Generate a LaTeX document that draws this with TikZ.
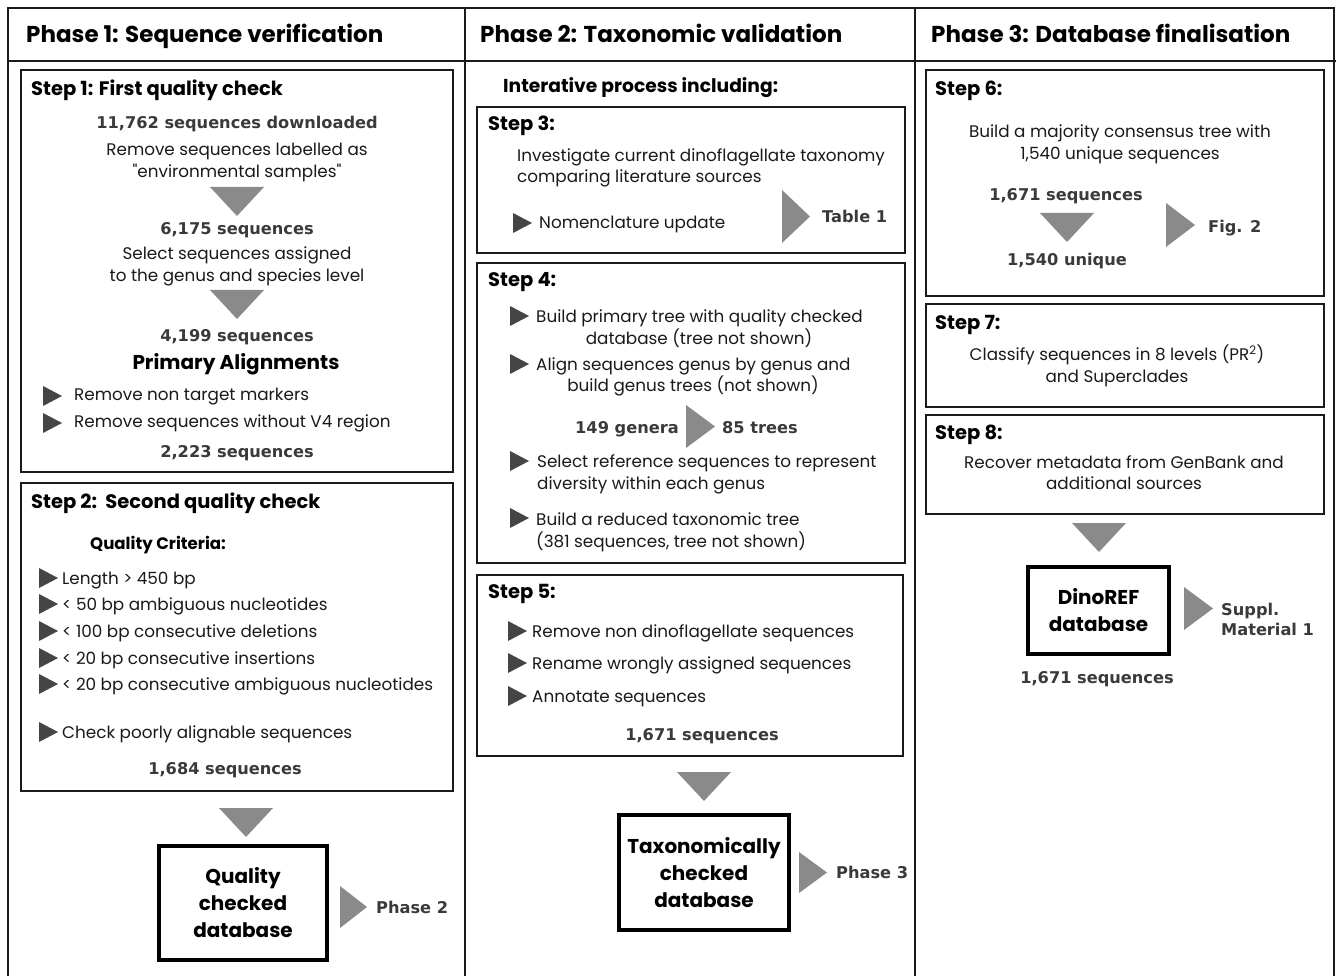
\documentclass[tikz,border=0pt]{standalone}
\usepackage{fontspec}
\setmainfont{Poppins}
\newfontfamily\popq{Poppins}
\newfontfamily\dvs{DejaVu Sans}
\definecolor{trigrey}{HTML}{8A8A8A}
\definecolor{bulgrey}{HTML}{454545}
\definecolor{numc}{HTML}{3A3A3A}
\definecolor{ink}{HTML}{1A1A1A}
\newcommand\dtri[2]{\fill[bigtri] (#1-27,#2) -- (#1+27,#2) -- (#1,#2+29) -- cycle;}
\newcommand\rtri[4]{\fill[bigtri] (#1,#2) -- (#1+#3,#2+#4/2) -- (#1,#2+#4) -- cycle;}
\newcommand\bulx[2]{\fill[bullet] (#1,#2-10) -- (#1+19,#2) -- (#1,#2+10) -- cycle;}
\newcommand\sq{{\popq\symbol{"22}}}
\begin{document}
\begin{tikzpicture}[x=1pt,y=-1pt,
  frame/.style={draw=ink, line width=2pt},
  stepbox/.style={draw=ink, line width=2pt},
  dbbox/.style={draw=black, line width=3.6pt, inner sep=0pt, align=center,
     font=\fontsize{20}{27}\selectfont\bfseries},
  txt/.style={inner sep=0pt, yshift=-4pt},
  hdr/.style={txt, font=\fontsize{23}{27}\selectfont\bfseries, anchor=mid west, text=black, yshift=-1pt},
  steptitle/.style={txt, font=\fontsize{19.5}{23}\selectfont\bfseries, anchor=mid west, text=black},
  body/.style={txt, font=\fontsize{16.8}{20}\selectfont, anchor=mid, text=ink},
  bodyl/.style={body, anchor=mid west},
  num/.style={txt, font=\dvs\bfseries\fontsize{16.2}{19}\selectfont, text=numc, anchor=mid},
  numl/.style={num, anchor=mid west},
  bigtri/.style={fill=trigrey},
  bullet/.style={fill=bulgrey}
]
\useasboundingbox (0,0) rectangle (1336,976);
\clip (0,0) rectangle (1336,976);
\fill[white] (0,0) rectangle (1336,976);

% frame
\draw[frame] (8,990) -- (8,8) -- (1334,8) -- (1334,990);
\draw[frame] (8,61) -- (1336,61);
\draw[frame] (465,8) -- (465,990);
\draw[frame] (915,8) -- (915,990);

\node[hdr] (h1) at (26,35) {Phase 1: Sequence verification};
\node[hdr] (h2) at (480,35) {Phase 2: Taxonomic validation};
\node[hdr] (h3) at (931,35) {Phase 3: Database finalisation};

% ---------------- Phase 1
\draw[stepbox] (21,70) rectangle (453,472);
\node[steptitle] (s1t) at (31,89) {Step 1: First quality check};
\node[num] (n11762) at (237,122) {11,762 sequences downloaded};
\node[body] (s1a) at (237,149) {Remove sequences labelled as};
\node[body] (s1b) at (237,171) {\sq environmental samples\sq};
\dtri{237}{187}
\node[num] (n6175) at (237,228) {6,175 sequences};
\node[body] (s1c) at (237,253) {Select sequences assigned};
\node[body] (s1d) at (237,275) {to the genus and species level};
\dtri{237}{290}
\node[num] (n4199) at (237,335) {4,199 sequences};
\node[txt, font=\fontsize{20}{24}\selectfont\bfseries, anchor=mid] (pa) at (236,363) {Primary Alignments};
\bulx{43}{396}
\node[bodyl] (s1e) at (74,394) {Remove non target markers};
\bulx{43}{423}
\node[bodyl] (s1f) at (74,421) {Remove sequences without V4 region};
\node[num] (n2223) at (237,451) {2,223 sequences};

\draw[stepbox] (21,483) rectangle (453,791);
\node[steptitle] (s2t) at (31,502) {Step 2:\ \ Second quality check};
\node[txt, font=\fontsize{16.6}{19}\selectfont\bfseries, anchor=mid west] (qc) at (90,543) {Quality Criteria:};
\bulx{39}{578}
\node[bodyl] (c1) at (62,578) {Length > 450 bp};
\bulx{39}{604}
\node[bodyl] (c2) at (62,604) {< 50 bp ambiguous nucleotides};
\bulx{39}{631}
\node[bodyl] (c3) at (62,631) {< 100 bp consecutive deletions};
\bulx{39}{658}
\node[bodyl] (c4) at (62,658) {< 20 bp consecutive insertions};
\bulx{39}{684}
\node[bodyl] (c5) at (62,684) {< 20 bp consecutive ambiguous nucleotides};
\bulx{39}{732}
\node[bodyl] (c6) at (62,732) {Check poorly alignable sequences};
\node[num] (n1684) at (225,768) {1,684 sequences};
\dtri{246}{808}
\node[dbbox, minimum width=168, minimum height=114] (db1) at (243,903) {Quality\\checked\\database};
\rtri{340}{886}{27}{42}
\node[numl] (p2) at (376,907) {Phase 2};

% ---------------- Phase 2
\node[txt, font=\fontsize{18.7}{22}\selectfont\bfseries, anchor=mid west] (iter) at (503,86) {Interative process including:};
\draw[stepbox] (477,107) rectangle (905,253);
\node[steptitle] (s3t) at (488,124) {Step 3:};
\node[bodyl] (s3a) at (517,155) {Investigate current dinoflagellate taxonomy};
\node[bodyl] (s3b) at (517,176) {comparing literature sources};
\bulx{513}{223}
\node[bodyl] (s3c) at (539,222) {Nomenclature update};
\rtri{782}{190}{28}{53}
\node[numl] (t1) at (822,216) {Table 1};

\draw[stepbox] (477,263) rectangle (905,563);
\node[steptitle] (s4t) at (488,280) {Step 4:};
\bulx{510}{316}
\node[bodyl] (s4a) at (536,316) {Build primary tree with quality checked};
\node[body] (s4b) at (699,338) {database (tree not shown)};
\bulx{510}{364}
\node[bodyl] (s4c) at (536,364) {Align sequences genus by genus and};
\node[body] (s4d) at (693,385) {build genus trees (not shown)};
\node[numl] (g149) at (575,427) {149 genera};
\rtri{686}{405}{29}{43}
\node[numl] (t85) at (722,427) {85 trees};
\bulx{510}{461}
\node[bodyl] (s4e) at (537,461) {Select reference sequences to represent};
\node[bodyl] (s4f) at (537,483) {diversity within each genus};
\bulx{510}{518}
\node[bodyl] (s4g) at (536,519) {Build a reduced taxonomic tree};
\node[bodyl] (s4h) at (536,541) {(381 sequences, tree not shown)};

\draw[stepbox] (477,575) rectangle (903,756);
\node[steptitle] (s5t) at (488,592) {Step 5:};
\bulx{508}{631}
\node[bodyl] (s5a) at (532,631) {Remove non dinoflagellate sequences};
\bulx{508}{663}
\node[bodyl] (s5b) at (532,663) {Rename wrongly assigned sequences};
\bulx{508}{696}
\node[bodyl] (s5c) at (532,696) {Annotate sequences};
\node[num] (n1671a) at (702,734) {1,671 sequences};
\dtri{704}{772}
\node[dbbox, minimum width=170, minimum height=115] (db2) at (704,872.5) {Taxonomically\\checked\\database};
\rtri{799}{852}{28}{41}
\node[numl] (p3) at (836,872) {Phase 3};

% ---------------- Phase 3
\draw[stepbox] (926,70) rectangle (1324,296);
\node[steptitle] (s6t) at (935,89) {Step 6:};
\node[body] (s6a) at (1120,131) {Build a majority consensus tree with};
\node[body] (s6b) at (1120,153) {1,540 unique sequences};
\node[num] (n1671b) at (1066,194) {1,671 sequences};
\dtri{1067}{213}
\node[num] (n1540) at (1067,259) {1,540 unique};
\rtri{1166}{203}{29}{44}
\node[numl] (f2) at (1208,226) {Fig. 2};

\draw[stepbox] (926,304) rectangle (1324,407);
\node[steptitle] (s7t) at (935,323) {Step 7:};
\node[body] (s7a) at (1117,354) {Classify sequences in 8 levels (PR\textsuperscript{2})};
\node[body] (s7b) at (1117,376) {and Superclades};

\draw[stepbox] (926,415) rectangle (1324,514);
\node[steptitle] (s8t) at (935,433) {Step 8:};
\node[body] (s8a) at (1124,462) {Recover metadata from GenBank and};
\node[body] (s8b) at (1124,483) {additional sources};
\dtri{1099}{523}
\node[dbbox, minimum width=141, minimum height=87] (db3) at (1098.5,610.5) {DinoREF\\database};
\rtri{1184}{587}{29}{43}
\node[numl] (sm1) at (1221,609) {Suppl.};
\node[numl] (sm2) at (1221,629) {Material 1};
\node[num] (n1671c) at (1097,677) {1,671 sequences};
\end{tikzpicture}
\end{document}
